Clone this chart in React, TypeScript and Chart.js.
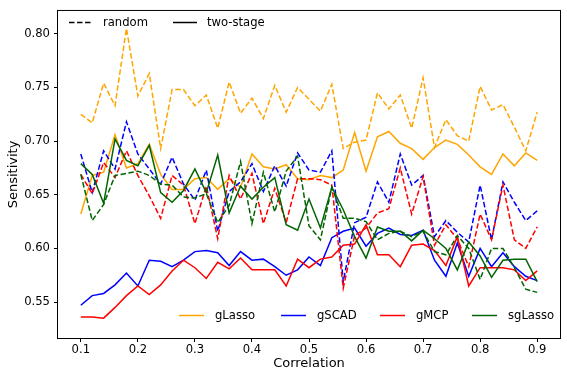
import React, { useEffect, useRef } from "react";
import { Chart, registerables } from "chart.js";

Chart.register(...registerables);

const correlation = [
  0.10, 0.12, 0.14, 0.16, 0.18, 0.20, 0.22, 0.24, 0.26, 0.28,
  0.30, 0.32, 0.34, 0.36, 0.38, 0.40, 0.42, 0.44, 0.46, 0.48,
  0.50, 0.52, 0.54, 0.56, 0.58, 0.60, 0.62, 0.64, 0.66, 0.68,
  0.70, 0.72, 0.74, 0.76, 0.78, 0.80, 0.82, 0.84, 0.86, 0.88, 0.90,
];

const gLassoRandom = [
  0.725, 0.717, 0.754, 0.733, 0.805, 0.742, 0.763, 0.693, 0.748, 0.748,
  0.733, 0.743, 0.712, 0.755, 0.726, 0.740, 0.721, 0.752, 0.727, 0.750,
  0.739, 0.728, 0.753, 0.693, 0.699, 0.701, 0.745, 0.730, 0.743, 0.712,
  0.759, 0.694, 0.720, 0.705, 0.700, 0.751, 0.729, 0.734, 0.713, 0.691, 0.727,
];
const gLassoTwoStage = [
  0.632, 0.668, 0.671, 0.706, 0.675, 0.679, 0.697, 0.669, 0.655, 0.655,
  0.665, 0.666, 0.655, 0.665, 0.657, 0.688, 0.676, 0.674, 0.678, 0.665,
  0.664, 0.668, 0.666, 0.673, 0.708, 0.672, 0.704, 0.709, 0.698, 0.693,
  0.683, 0.694, 0.701, 0.697, 0.687, 0.676, 0.669, 0.688, 0.677, 0.689, 0.682,
];
const gSCADRandom = [
  0.688, 0.652, 0.691, 0.674, 0.718, 0.688, 0.674, 0.660, 0.685, 0.660,
  0.645, 0.673, 0.616, 0.653, 0.662, 0.679, 0.653, 0.677, 0.658, 0.689,
  0.673, 0.671, 0.691, 0.569, 0.624, 0.629, 0.662, 0.643, 0.688, 0.659,
  0.668, 0.611, 0.626, 0.615, 0.606, 0.659, 0.608, 0.662, 0.643, 0.626, 0.635,
];
const gSCADTwoStage = [
  0.547, 0.556, 0.558, 0.566, 0.577, 0.565, 0.589, 0.588, 0.583, 0.589,
  0.597, 0.598, 0.596, 0.584, 0.597, 0.589, 0.590, 0.583, 0.575, 0.580,
  0.592, 0.584, 0.610, 0.616, 0.619, 0.602, 0.614, 0.619, 0.613, 0.612,
  0.617, 0.589, 0.574, 0.605, 0.574, 0.600, 0.583, 0.596, 0.583, 0.574, 0.570,
];
const gMCPRandom = [
  0.669, 0.651, 0.680, 0.666, 0.691, 0.668, 0.649, 0.628, 0.668, 0.659,
  0.623, 0.658, 0.609, 0.668, 0.646, 0.670, 0.623, 0.656, 0.624, 0.665,
  0.665, 0.664, 0.659, 0.563, 0.612, 0.619, 0.633, 0.637, 0.675, 0.632,
  0.667, 0.603, 0.622, 0.609, 0.583, 0.632, 0.608, 0.659, 0.608, 0.600, 0.620,
];
const gMCPTwoStage = [
  0.536, 0.536, 0.535, 0.545, 0.556, 0.565, 0.557, 0.566, 0.579, 0.589,
  0.582, 0.572, 0.587, 0.581, 0.591, 0.580, 0.580, 0.580, 0.565, 0.590,
  0.582, 0.590, 0.592, 0.603, 0.604, 0.622, 0.594, 0.594, 0.583, 0.603,
  0.604, 0.598, 0.584, 0.611, 0.565, 0.582, 0.582, 0.582, 0.580, 0.570, 0.579,
];
const sgLassoRandom = [
  0.669, 0.626, 0.641, 0.668, 0.670, 0.672, 0.668, 0.660, 0.659, 0.648,
  0.647, 0.651, 0.624, 0.640, 0.681, 0.623, 0.671, 0.634, 0.672, 0.686,
  0.621, 0.608, 0.657, 0.628, 0.628, 0.625, 0.608, 0.614, 0.616, 0.611,
  0.616, 0.597, 0.594, 0.612, 0.600, 0.571, 0.600, 0.600, 0.582, 0.562, 0.559,
];
const sgLassoTwoStage = [
  0.679, 0.669, 0.642, 0.702, 0.682, 0.677, 0.696, 0.652, 0.643, 0.654,
  0.674, 0.652, 0.687, 0.633, 0.658, 0.646, 0.657, 0.666, 0.622, 0.617,
  0.646, 0.619, 0.657, 0.636, 0.611, 0.591, 0.620, 0.616, 0.616, 0.607,
  0.617, 0.609, 0.600, 0.580, 0.606, 0.593, 0.573, 0.589, 0.590, 0.590, 0.569,
];

const xTicks = [0.1, 0.2, 0.3, 0.4, 0.5, 0.6, 0.7, 0.8, 0.9];
const yTicks = [0.55, 0.6, 0.65, 0.7, 0.75, 0.8];

const methodNames = ["gLasso", "gSCAD", "gMCP", "sgLasso"];
const methodColors = ["#ffa500", "#0000ff", "#ff0000", "#006400"];
const styleNames = ["random", "two-stage"];

const FONT = "'DejaVu Sans', sans-serif";
const DASH = [5.5, 2.5];

export default function App() {
  const ref = useRef<HTMLCanvasElement>(null);

  useEffect(() => {
    document.body.style.margin = "0";
    const canvas = ref.current!;
    const mk = (label: string, values: number[], color: string, dashed: boolean) => ({
      label,
      data: correlation.map((x, i) => ({ x, y: values[i] })),
      borderColor: color,
      backgroundColor: color,
      borderWidth: 1.5,
      borderDash: dashed ? DASH : [],
      pointRadius: 0,
      tension: 0,
      fill: false,
    });

    const datasets = [
      mk("sgLasso two-stage", sgLassoTwoStage, methodColors[3], false),
      mk("sgLasso random", sgLassoRandom, methodColors[3], true),
      mk("gMCP two-stage", gMCPTwoStage, methodColors[2], false),
      mk("gMCP random", gMCPRandom, methodColors[2], true),
      mk("gSCAD two-stage", gSCADTwoStage, methodColors[1], false),
      mk("gSCAD random", gSCADRandom, methodColors[1], true),
      mk("gLasso two-stage", gLassoTwoStage, methodColors[0], false),
      mk("gLasso random", gLassoRandom, methodColors[0], true),
    ];

    const legendPlugin = {
      id: "customLegends",
      afterDraw(chart: any) {
        const c = chart.ctx as CanvasRenderingContext2D;
        const a = chart.chartArea;
        c.save();
        c.strokeStyle = "#000";
        c.lineWidth = 1;
        c.setLineDash([]);
        c.strokeRect(a.left - 0.5, a.top - 0.5, a.right - a.left + 1, a.bottom - a.top + 1);

        c.font = `11.6px ${FONT}`;
        c.fillStyle = "#000";
        c.textBaseline = "middle";
        c.textAlign = "left";

        const topY = 22.5;
        const topStarts = [69, 173];
        styleNames.forEach((name, i) => {
          const x0 = topStarts[i];
          c.strokeStyle = "#000";
          c.lineWidth = 1.5;
          c.setLineDash(i === 0 ? DASH : []);
          c.beginPath();
          c.moveTo(x0, topY);
          c.lineTo(x0 + 24, topY);
          c.stroke();
          c.setLineDash([]);
          c.fillText(name, x0 + 34, topY + 0.5);
        });

        const botY = 315.5;
        const botStarts = [179, 281, 380, 472];
        methodNames.forEach((name, i) => {
          const x0 = botStarts[i];
          c.strokeStyle = methodColors[i];
          c.lineWidth = 1.5;
          c.setLineDash([]);
          c.beginPath();
          c.moveTo(x0, botY);
          c.lineTo(x0 + 25, botY);
          c.stroke();
          c.fillText(name, x0 + 36, botY + 0.5);
        });
        c.restore();
      },
    };

    const tickFont = { family: FONT, size: 11.6 };
    const titleFont = { family: FONT, size: 13 };

    const chart = new Chart(canvas, {
      type: "line",
      data: { datasets: datasets as any },
      plugins: [legendPlugin],
      options: {
        animation: false,
        responsive: false,
        layout: { padding: { top: 7, right: 7, left: 0, bottom: 0 } },
        plugins: { legend: { display: false }, tooltip: { enabled: false } },
        scales: {
          x: {
            type: "linear",
            min: 0.06,
            max: 0.94,
            afterBuildTicks: (s: any) => {
              s.ticks = xTicks.map((v) => ({ value: v }));
            },
            afterFit: (s: any) => {
              s.height = 39;
            },
            ticks: {
              callback: (v: any) => Number(v).toFixed(1),
              font: tickFont,
              color: "#000",
              padding: 1,
              maxRotation: 0,
              autoSkip: false,
            },
            grid: { drawOnChartArea: false, tickLength: 4, color: "#000", lineWidth: 1 },
            border: { display: false },
            title: {
              display: true,
              text: "Correlation",
              font: titleFont,
              color: "#000",
              padding: { top: 0, bottom: 6 },
            },
          },
          y: {
            type: "linear",
            min: 0.5165,
            max: 0.8213,
            afterBuildTicks: (s: any) => {
              s.ticks = yTicks.map((v) => ({ value: v }));
            },
            afterFit: (s: any) => {
              s.width = 58;
            },
            ticks: {
              callback: (v: any) => Number(v).toFixed(2),
              font: tickFont,
              color: "#000",
              padding: 4,
              autoSkip: false,
            },
            grid: { drawOnChartArea: false, tickLength: 4, color: "#000", lineWidth: 1 },
            border: { display: false },
            title: {
              display: true,
              text: "Sensitivity",
              font: titleFont,
              color: "#000",
              padding: { top: 6, bottom: 0 },
            },
          },
        },
      } as any,
    });
    return () => chart.destroy();
  }, []);

  return (
    <div style={{ position: "absolute", left: 0, top: 0, width: 567, height: 377, overflow: "hidden", background: "#fff" }}>
      <canvas ref={ref} width={567} height={377} style={{ display: "block" }} />
    </div>
  );
}
